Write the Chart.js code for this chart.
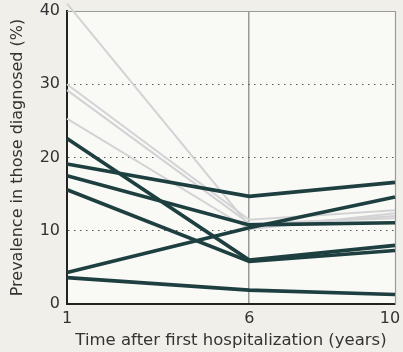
<!DOCTYPE html>
<html>
<head>
<meta charset="utf-8">
<script src="https://cdn.jsdelivr.net/npm/chart.js@4"></script>
<style>
html,body{margin:0;padding:0;background:#f1efe9;}
#wrap{width:403px;height:352px;}
</style>
</head>
<body>
<div id="wrap"><canvas id="c" width="403" height="352"></canvas></div>
<script>
const years = [1, 6, 10];
const yTicks = [0, 10, 20, 30, 40];
const xTicks = [1, 6, 10];

const darkA = [19.1, 14.7, 16.6];
const darkB = [22.6, 6.0, 8.0];
const darkC = [15.6, 5.8, 7.3];
const darkD = [17.5, 10.8, 11.1];
const darkE = [4.3, 10.4, 14.6];
const darkF = [3.6, 1.9, 1.3];

const grayA = [41.0, 10.7, 12.0];
const grayB = [30.0, 11.5, 12.8];
const grayC = [29.2, 11.0, 11.7];
const grayD = [25.3, 10.2, 12.4];

const darkSeries = [darkA, darkB, darkC, darkD, darkE, darkF];
const graySeries = [grayA, grayB, grayC, grayD];

const DARK = '#1e3f3f';
const GRAY = '#d3d3d6';
const FONT = 'DejaVu Sans, Liberation Sans, sans-serif';

function pts(vals){ return years.map((x,i)=>({x:x, y:vals[i]})); }

const datasets = [];
darkSeries.forEach(s => datasets.push({data: pts(s), borderColor: DARK, borderWidth: 3.6, pointRadius: 0, clip: false, order: 0, tension: 0}));
graySeries.forEach(s => datasets.push({data: pts(s), borderColor: GRAY, borderWidth: 2, pointRadius: 0, clip: false, order: 1, tension: 0}));

const framePlugin = {
  id: 'frame',
  beforeDraw(chart){
    const {ctx, chartArea:a} = chart;
    ctx.save();
    ctx.fillStyle = '#f9f9f6';
    ctx.fillRect(a.left, a.top, a.right - a.left, a.bottom - a.top);
    ctx.restore();
  },
  beforeDatasetsDraw(chart){
    const {ctx, chartArea:a} = chart;
    ctx.save();
    ctx.strokeStyle = '#9a9a9a';
    ctx.lineWidth = 1.2;
    ctx.beginPath();
    ctx.moveTo(a.left, a.top + 0.5);
    ctx.lineTo(a.right + 0.5, a.top + 0.5);
    ctx.lineTo(a.right + 0.5, a.bottom);
    ctx.stroke();
    ctx.restore();
  }
};

new Chart(document.getElementById('c'), {
  type: 'line',
  data: {datasets},
  plugins: [framePlugin],
  options: {
    responsive: false,
    animation: false,
    layout: {padding: {left: 0, right: 8, top: 11, bottom: 0}},
    plugins: {legend: {display: false}, tooltip: {enabled: false}},
    scales: {
      x: {
        type: 'linear', min: 1, max: 10,
        afterBuildTicks(s){ s.ticks = xTicks.map(v=>({value:v})); },
        afterFit(s){ s.height = 48; s.paddingLeft = 0; s.paddingRight = 0; },
        grid: {
          drawTicks: false,
          color: ctx => (ctx.tick && ctx.tick.value === 6) ? '#9a9a9a' : 'rgba(0,0,0,0)',
          lineWidth: 1.5
        },
        border: {display: true, color: '#222', width: 2},
        ticks: {
          color: '#333', font: {family: FONT, size: 16}, padding: 5, maxRotation: 0, autoSkip: false,
          callback: v => v === 10 ? '10\u2007' : String(v)
        },
        title: {display: true, text: 'Time after first hospitalization (years)', color: '#333', font: {family: FONT, size: 16.5}, padding: {top: 0, bottom: 1}}
      },
      y: {
        min: 0, max: 40,
        afterBuildTicks(s){ s.ticks = yTicks.map(v=>({value:v})); },
        afterFit(s){ s.width = 67; s.paddingTop = 0; s.paddingBottom = 0; },
        grid: {
          drawTicks: false,
          color: ctx => (ctx.tick && ctx.tick.value > 0 && ctx.tick.value < 40) ? '#555' : 'rgba(0,0,0,0)',
          lineWidth: 1
        },
        border: {display: true, color: '#222', width: 2, dash: [1.5, 4.5]},
        ticks: {color: '#333', font: {family: FONT, size: 16}, padding: 7},
        title: {display: true, text: 'Prevalence in those diagnosed (%)', color: '#333', font: {family: FONT, size: 16}, padding: {top: 8, bottom: 0}}
      }
    }
  }
});
</script>
</body>
</html>
